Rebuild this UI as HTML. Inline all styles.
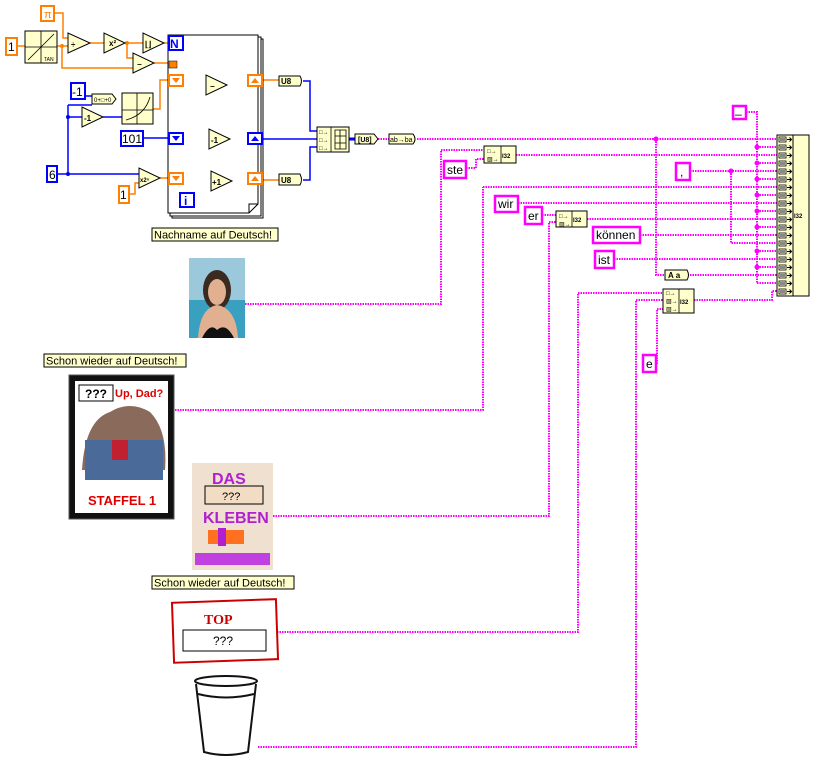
<!DOCTYPE html>
<html><head><meta charset="utf-8"><style>
html,body{margin:0;padding:0;background:#fff;}
svg{display:block;font-family:"Liberation Sans",sans-serif;}
</style></head><body>
<svg width="820" height="767" viewBox="0 0 820 767" xmlns="http://www.w3.org/2000/svg">
<defs>
<pattern id="row" x="777" y="135" width="16" height="8" patternUnits="userSpaceOnUse">
<rect x="2" y="2" width="7" height="5" fill="#fff" stroke="#000" stroke-width="0.8"/>
<rect x="3" y="3" width="5" height="3" fill="#888"/>
<path d="M10 4.5h4M12.5 2.5l2 2-2 2" stroke="#000" stroke-width="1" fill="none"/>
</pattern>
</defs>
<g fill="none" stroke-width="1.5">
<g stroke="#ff8000">
<path d="M17 46H25M57 46H68M62 46V68H133M54 13H63V38H68M90 43H104M125 43H143M127 43V58H133M164 43H168M154 63H169M177 64H200V90H206M183 80H206M227 85H233V80H247M262 80H279M153 109H160V80H168M129 194H135V183H139M160 178H168M183 178H211M232 181H240V178H247M262 180H279"/>
</g>
<g stroke="#0000ff">
<path d="M85 96H92M68 105V174M68 105H92M68 117H82M103 117H122M57 174H139M143 138H168M183 139H209M230 139H247M262 139H317M303 81H310V131H317M303 180H310V147H317"/>
<path d="M349 139H355" stroke-width="3"/>
</g>
<g stroke="#ff00ff" stroke-width="2" stroke-dasharray="1.5 1">
<path d="M378 139H389M417 139H777M656 139V275H665M690 275H777"/>
<path d="M746 112H757V283M757 147H777M757 163H777M757 179H777M757 195H777M757 211H777M757 227H777M757 251H777M757 267H777M757 283H777"/>
<path d="M516 155H777M690 171H777M731 171V243H777M483 187H777M518 203H777M587 219H777M640 235H777M614 259H777"/>
<path d="M245 304H441V150H484M466 168H476V159H484"/>
<path d="M175 410H483V187"/>
<path d="M542 215H556M273 516H549V222H556"/>
<path d="M277 632H578V293H663M258 747H636V300H663M656 363H657V309H663M694 300H772V291H777"/>
</g>
</g>
<g fill="#ff00ff"><circle cx="656" cy="139" r="2.5"/><circle cx="731" cy="171" r="2.5"/>
<circle cx="757" cy="147" r="2.5"/><circle cx="757" cy="163" r="2.5"/><circle cx="757" cy="179" r="2.5"/><circle cx="757" cy="195" r="2.5"/><circle cx="757" cy="211" r="2.5"/><circle cx="757" cy="227" r="2.5"/><circle cx="757" cy="251" r="2.5"/><circle cx="757" cy="267" r="2.5"/></g>
<g fill="#ff8000"><circle cx="62" cy="46" r="2"/><circle cx="127" cy="43" r="2"/></g>
<g fill="#0000ff"><circle cx="68" cy="117" r="2"/><circle cx="68" cy="174" r="2"/></g>

<g fill="#fff" stroke="#000" stroke-width="1">
<rect x="172" y="39" width="91" height="179"/>
<rect x="170" y="37" width="91" height="179"/>
<path d="M168 35H258V204L249 213H168Z"/>
<path d="M249 213V204H258" fill="none"/>
</g>

<g fill="#ffffcc" stroke="#000" stroke-width="1">
<polygon points="68,33 68,53 90,43"/>
<polygon points="104,33 104,53 125,43"/>
<polygon points="143,33 143,53 164,43"/>
<polygon points="133,53 133,73 154,63"/>
<polygon points="206,75 206,95 227,85"/>
<polygon points="82,107 82,127 103,117"/>
<polygon points="209,129 209,149 230,139"/>
<polygon points="139,168 139,188 160,178"/>
<polygon points="211,171 211,191 232,181"/>
<rect x="25" y="31" width="32" height="32"/>
<rect x="122" y="93" width="31" height="31"/>
<path d="M92 94H112L116 99L112 104H92Z"/>
<path d="M279 76H300Q303 81 300 86H279Z"/>
<path d="M279 174H300Q303 180 300 185H279Z"/>
<rect x="317" y="127" width="32" height="25"/>
<path d="M355 134H374L378 139L374 144H355Z"/>
<path d="M389 134H413Q417 139 413 144H389Z"/>
<rect x="484" y="146" width="32" height="17"/>
<rect x="556" y="211" width="31" height="16"/>
<rect x="663" y="289" width="31" height="24"/>
<path d="M665 270H687Q690 275 687 280H665Z"/>
<rect x="777" y="135" width="32" height="161"/>
</g>
<rect x="777" y="135" width="16" height="161" fill="url(#row)" stroke="#000"/>
<g stroke="#000" fill="none" stroke-width="0.8">
<path d="M501 146V163M572 211V227M679 289V313M331 127V152M41 31V63M25 47H57M28 60Q41 47 54 34M137 93V124M122 110H153M126 120Q145 115 150 97"/>
<path d="M335 130h11v19h-11zM335 136h11M335 143h11M340 130v19"/>
</g>
<g font-size="8" font-weight="bold" fill="#000">
<text x="109" y="46">x²</text><text x="145" y="47">⌊⌋</text><text x="71" y="47">÷</text>
<text x="137" y="67">−</text><text x="210" y="89">−</text><text x="84" y="121">-1</text>
<text x="211" y="143">-1</text><text x="212" y="185">+1</text><text x="140" y="182" font-size="6">x2ⁿ</text>
<text x="281" y="84">U8</text><text x="281" y="183">U8</text>
<text x="358" y="142" font-size="7">[U8]</text><text x="390" y="142" font-size="7" font-weight="normal">ab→ba</text>
<text x="668" y="278" font-size="8">A a</text>
<text x="94" y="102" font-size="6" font-weight="normal">0+□+0</text>
<text x="44" y="61" font-size="5" font-weight="normal">TAN</text>
<text x="502" y="158" font-size="6">I32</text><text x="573" y="222" font-size="6">I32</text>
<text x="680" y="304" font-size="6">I32</text><text x="794" y="218" font-size="6">I32</text>
</g>
<g font-size="6" fill="#000"><text x="487" y="153">□→</text><text x="487" y="161">▨→</text><text x="559" y="218">□→</text><text x="559" y="226">▨→</text><text x="666" y="295">□→</text><text x="666" y="303">▨→</text><text x="666" y="311">▨→</text><text x="319" y="134">□→</text><text x="319" y="142">□→</text><text x="319" y="150">□→</text></g>

<g stroke-width="2" fill="#fff">
<rect x="41" y="6" width="13" height="15" stroke="#ff8000"/>
<rect x="6" y="38" width="11" height="17" stroke="#ff8000"/>
<rect x="119" y="186" width="10" height="17" stroke="#ff8000"/>
<rect x="71" y="83" width="14" height="16" stroke="#0000ff"/>
<rect x="121" y="131" width="22" height="15" stroke="#0000ff"/>
<rect x="47" y="166" width="10" height="16" stroke="#0000ff"/>
<rect x="169" y="36" width="14" height="14" stroke="#0000ff"/>
<rect x="180" y="193" width="14" height="14" stroke="#0000ff"/>
<rect x="169" y="75" width="14" height="11" stroke="#ff8000"/>
<rect x="248" y="75" width="14" height="11" stroke="#ff8000"/>
<rect x="169" y="133" width="14" height="11" stroke="#0000ff"/>
<rect x="248" y="133" width="14" height="11" stroke="#0000ff"/>
<rect x="169" y="173" width="14" height="11" stroke="#ff8000"/>
<rect x="248" y="173" width="14" height="11" stroke="#ff8000"/>
</g>
<rect x="169" y="61" width="8" height="7" fill="#ff8000" stroke="#000" stroke-width="0.5"/>
<g fill="#ff8000"><path d="M172 78h8l-4 5z M172 176h8l-4 5z M251 83h8l-4-5z M251 181h8l-4-5z"/></g>
<g fill="#0000ff"><path d="M172 136h8l-4 5z M251 141h8l-4-5z"/></g>
<g font-size="12" fill="#000">
<text x="44" y="18" fill="#ff8000" font-size="11">π</text>
<text x="8" y="51">1</text><text x="120" y="199">1</text>
<text x="72" y="96">-1</text><text x="122" y="143">101</text><text x="49" y="179">6</text>
<text x="170" y="48" fill="#0000ff" font-weight="bold">N</text><text x="184" y="205" fill="#0000ff" font-weight="bold">i</text>
</g>
<g stroke="#ff00ff" stroke-width="2.5" fill="#fff">
<rect x="733" y="106" width="13" height="13"/>
<rect x="444" y="161" width="22" height="17"/>
<rect x="676" y="163" width="14" height="17"/>
<rect x="495" y="196" width="23" height="16"/>
<rect x="525" y="207" width="17" height="17"/>
<rect x="593" y="227" width="47" height="16"/>
<rect x="595" y="251" width="19" height="17"/>
<rect x="643" y="355" width="13" height="17"/>
</g>
<g font-size="12" fill="#000">
<text x="735" y="113">_</text><text x="447" y="174">ste</text><text x="680" y="176">,</text>
<text x="498" y="208">wir</text><text x="528" y="220">er</text><text x="596" y="239">können</text>
<text x="598" y="264">ist</text><text x="646" y="368">e</text>
</g>

<g font-size="11" fill="#000">
<rect x="152" y="228" width="126" height="13" fill="#ffffcc" stroke="#000"/>
<text x="154" y="238.5">Nachname auf Deutsch!</text>
<rect x="44" y="354" width="142" height="13" fill="#ffffcc" stroke="#000"/>
<text x="46" y="364.5">Schon wieder auf Deutsch!</text>
<rect x="152" y="576" width="142" height="13" fill="#ffffcc" stroke="#000"/>
<text x="154" y="586.5">Schon wieder auf Deutsch!</text>
</g>

<rect x="189" y="258" width="56" height="80" fill="#9cc8dc"/>
<rect x="189" y="300" width="56" height="38" fill="#3aa0c0"/>
<ellipse cx="217" cy="290" rx="14" ry="20" fill="#3a2a20"/>
<ellipse cx="217" cy="292" rx="9" ry="13" fill="#e0b090"/>
<path d="M198 338Q200 308 217 305Q236 308 238 338Z" fill="#e0b090"/>
<path d="M202 338Q210 322 217 330Q226 322 234 338Z" fill="#111"/>

<rect x="69" y="375" width="105" height="144" fill="#111" stroke="#555"/>
<rect x="75" y="381" width="93" height="132" fill="#fff"/>
<rect x="79" y="385" width="34" height="16" fill="#fff" stroke="#000"/>
<text x="85" y="398" font-size="12" font-weight="bold" fill="#000">???</text>
<text x="115" y="397" font-size="11" font-weight="bold" fill="#d00">Up, Dad?</text>
<path d="M82 470Q85 420 110 412Q130 400 150 412Q168 430 165 470Z" fill="#8a6a5a"/>
<rect x="85" y="440" width="78" height="40" fill="#4a6a9a"/>
<rect x="112" y="440" width="16" height="20" fill="#c02030"/>
<text x="88" y="505" font-size="13" font-weight="bold" fill="#d00">STAFFEL 1</text>

<rect x="192" y="463" width="81" height="107" fill="#f0e0d0"/>
<text x="212" y="484" font-size="16" font-weight="bold" fill="#b020d0">DAS</text>
<rect x="205" y="486" width="58" height="18" fill="#f2dcc4" stroke="#000"/>
<text x="222" y="500" font-size="11" fill="#000">???</text>
<text x="203" y="523" font-size="16" font-weight="bold" fill="#b020d0">KLEBEN</text>
<rect x="208" y="530" width="36" height="14" fill="#ff7020"/>
<rect x="218" y="528" width="8" height="18" fill="#b020d0"/>
<rect x="195" y="553" width="75" height="12" fill="#c040e0"/>

<g transform="rotate(-2 224 631)">
<rect x="173" y="601" width="104" height="60" fill="#fff" stroke="#c00" stroke-width="2"/>
</g>
<text x="204" y="624" font-size="14" font-weight="bold" fill="#c00" font-family="Liberation Serif,serif">TOP</text>
<rect x="183" y="630" width="83" height="21" fill="#fff" stroke="#000"/>
<text x="213" y="645" font-size="12" fill="#000">???</text>

<g fill="none" stroke="#111" stroke-width="2">
<ellipse cx="226" cy="681" rx="31" ry="5"/>
<path d="M196 684L204 752Q226 758 248 752L256 684"/>
<path d="M198 694Q226 701 254 694"/>
</g>
</svg>
</body></html>
